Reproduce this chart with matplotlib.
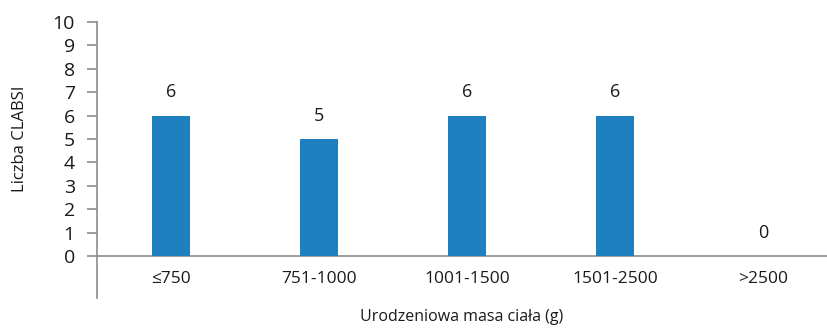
import matplotlib
matplotlib.use("Agg")
import matplotlib.pyplot as plt

categories = ["≤750", "751-1000", "1001-1500", "1501-2500", ">2500"]
values = [6, 5, 6, 6, 0]
yticks = list(range(0, 11))

plt.rcParams['font.family'] = ['Open Sans', 'DejaVu Sans']

W, H = 827, 328
fig = plt.figure(figsize=(W / 100, H / 100), dpi=100)
left_px, right_px, top_px, zero_px, bottom_px = 97, 827, 22, 256, 298
ax = fig.add_axes([left_px / W, 1 - bottom_px / H, (right_px - left_px) / W, (bottom_px - top_px) / H])

unit = (zero_px - top_px) / 10.0
ymin = -(bottom_px - zero_px) / unit
ax.set_ylim(ymin, 10)
step = 148.0
ax.set_xlim(-0.5, -0.5 + (right_px - left_px) / step)

bar_color = "#1f80c0"
axis_color = "#8c8c8c"
text_color = "#1a1a1a"

x = list(range(len(categories)))
ax.bar(x, values, width=0.26, color=bar_color, zorder=3)

for xi, v in zip(x, values):
    ax.text(xi, v + 1.0, str(v), ha="center", va="center", fontsize=13, color=text_color)

for xi, c in zip(x, categories):
    ax.text(xi, -1.0, c, ha="center", va="center", fontsize=12.5, color=text_color)

ax.axhline(0, color=axis_color, lw=1.2, zorder=2)

for s in ["top", "right", "bottom"]:
    ax.spines[s].set_visible(False)
ax.spines["left"].set_color(axis_color)
ax.spines["left"].set_linewidth(1.2)

ax.set_yticks(yticks)
ax.set_yticklabels([str(t) for t in yticks], fontsize=14, color=text_color)
ax.tick_params(axis="y", length=7, width=1.2, color=axis_color, pad=9)
ax.set_xticks([])

fig.text(20 / W, 1 - 139 / H, "Liczba CLABSI", rotation=90, ha="center", va="center",
         fontsize=12, color=text_color)
fig.text(462 / W, 1 - 317 / H, "Urodzeniowa masa ciała (g)", ha="center", va="center",
         fontsize=11.5, color=text_color)

fig.savefig("out.png", dpi=100)
